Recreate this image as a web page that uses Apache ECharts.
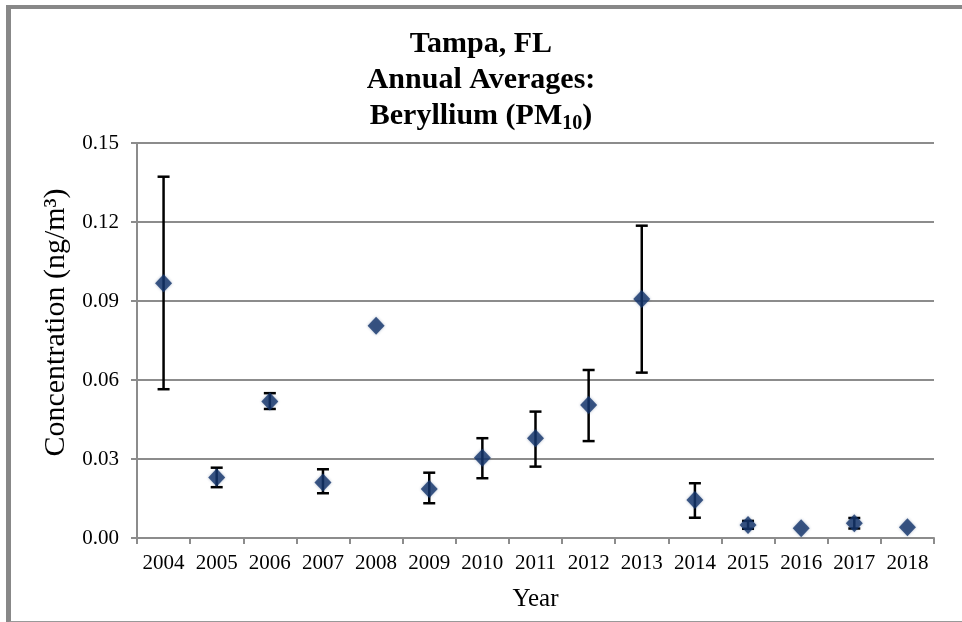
<!DOCTYPE html>
<html>
<head>
<meta charset="utf-8">
<script src="https://cdn.jsdelivr.net/npm/echarts@6/dist/echarts.min.js"></script>
<style>
  html, body { margin: 0; padding: 0; background: #fff; }
  #frame {
    position: absolute; left: 6px; top: 5px; width: 962px; height: 612px;
    border-left: 5px solid #888; border-top: 4px solid #888; border-bottom: 2px solid #999;
  }
  #chart { position: absolute; left: 0; top: 0; width: 962px; height: 622px; }
</style>
</head>
<body>
<div id="frame"></div>
<div id="chart"></div>
<script>
// annual averages and the 95% confidence interval ends (null = no bar)
const years = ['2004', '2005', '2006', '2007', '2008', '2009', '2010', '2011', '2012', '2013', '2014', '2015', '2016', '2017', '2018']
const avg = [0.0967, 0.0230, 0.0518, 0.0211, 0.0806, 0.0186, 0.0305, 0.0379, 0.0505, 0.0908, 0.0144, 0.0049, 0.0037, 0.0056, 0.0041]
const errLow = [0.0565, 0.0193, 0.0490, 0.0170, null, 0.0132, 0.0227, 0.0271, 0.0368, 0.0628, 0.0077, 0.0035, null, 0.0036, null]
const errHigh = [0.1372, 0.0267, 0.0550, 0.0261, null, 0.0248, 0.0379, 0.0480, 0.0638, 0.1186, 0.0208, 0.0065, null, 0.0076, null]
const yTicks = { min: 0, max: 0.15, interval: 0.03 }

const errData = years.map((y, i) => [i, errLow[i], errHigh[i]]).filter(d => d[1] != null)

const serif = 'Liberation Serif'
const chart = echarts.init(document.getElementById('chart'))
chart.setOption({
  animation: false,
  title: {
    left: 'center',
    top: 21,
    text: 'Tampa, FL\nAnnual Averages:\nBeryllium (PM{sub|10})',
    textStyle: {
      fontFamily: serif,
      fontSize: 30,
      fontWeight: 'bold',
      color: '#000',
      lineHeight: 36,
      rich: {
        sub: { fontFamily: serif, fontSize: 20, fontWeight: 'bold', color: '#000', verticalAlign: 'bottom', padding: [15, 0, 0, 0] },
      },
    },
  },
  grid: { left: 137, right: 28, top: 143, bottom: 84 },
  xAxis: {
    type: 'category',
    data: years,
    name: 'Year',
    nameLocation: 'middle',
    nameGap: 49,
    nameTextStyle: { fontFamily: serif, fontSize: 25, color: '#000' },
    axisLine: { lineStyle: { color: '#8c8c8c', width: 2 } },
    axisTick: { show: true, length: 6, lineStyle: { color: '#8c8c8c', width: 2 } },
    axisLabel: { interval: 0, fontFamily: serif, fontSize: 21, color: '#000', margin: 15 },
  },
  yAxis: {
    type: 'value',
    min: yTicks.min,
    max: yTicks.max,
    interval: yTicks.interval,
    name: 'Concentration (ng/m³)',
    nameLocation: 'middle',
    nameGap: 66,
    nameTextStyle: { fontFamily: serif, fontSize: 30, color: '#000', padding: [0, 0, 0, 36] },
    axisLine: { show: true, lineStyle: { color: '#8c8c8c', width: 2 } },
    axisTick: { show: true, length: 6, lineStyle: { color: '#8c8c8c', width: 2 } },
    axisLabel: { fontFamily: serif, fontSize: 21, color: '#000', margin: 18, formatter: v => v.toFixed(2) },
    splitLine: { lineStyle: { color: '#8c8c8c', width: 2 } },
  },
  series: [
    {
      // error bars with caps
      type: 'custom',
      data: errData,
      z: 2,
      renderItem: function (params, api) {
        const x = api.coord([api.value(0), api.value(1)])[0]
        const lo = api.coord([api.value(0), api.value(1)])[1]
        const hi = api.coord([api.value(0), api.value(2)])[1]
        const cap = 6
        const style = { stroke: '#000', lineWidth: 2.5 }
        return {
          type: 'group',
          children: [
            { type: 'line', shape: { x1: x, y1: hi, x2: x, y2: lo }, style },
            { type: 'line', shape: { x1: x - cap, y1: hi, x2: x + cap, y2: hi }, style },
            { type: 'line', shape: { x1: x - cap, y1: lo, x2: x + cap, y2: lo }, style },
          ],
        }
      },
    },
    {
      type: 'scatter',
      data: avg,
      z: 3,
      symbol: 'diamond',
      symbolSize: [17, 18],
      itemStyle: { color: '#14356b', shadowColor: 'rgba(20,53,107,0.4)', shadowBlur: 3 },
    },
  ],
})
</script>
</body>
</html>
